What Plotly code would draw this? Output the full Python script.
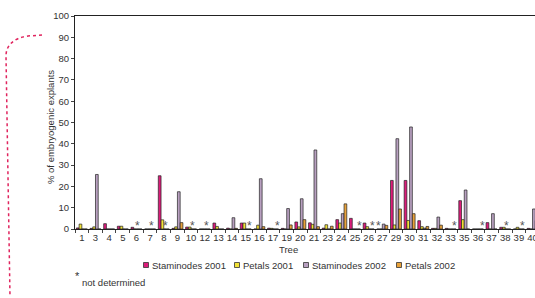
import plotly.graph_objects as go

trees = ["1", "3", "4", "5", "6", "7", "8", "9", "10", "12", "13", "14", "15", "16", "17",
         "19", "20", "21", "23", "24", "25", "26", "27", "29", "30", "31", "32", "33", "35",
         "36", "37", "38", "39", "40"]

staminodes_2001 = [0.5, 0.3, 2.5, 1.3, 0.8, 0, 25.0, 0.3, 0.9, 0, 2.8, 0.4, 2.8, 0, 0.4,
                   0.3, 3.3, 2.9, 0.4, 4.4, 5.0, 2.8, 0, 22.8, 22.8, 3.9, 0.3, 0.3, 13.3,
                   0, 3.0, 0.8, 0, 0.3]
petals_2001 = [2.3, 1.0, 0, 1.3, 0, 0, 4.3, 1.0, 0.9, 0, 1.2, 0, 2.8, 1.8, 0.3,
               0, 1.0, 2.2, 2.0, 2.8, 0, 1.1, 0, 1.9, 4.0, 1.1, 0.3, 0, 4.4,
               0, 0, 0.8, 0.8, 0]
staminodes_2002 = [0, 25.6, 0, 0, 0, 0, 0, 17.5, 0, 0, 0, 5.3, 0, 23.6, 0,
                   9.6, 14.2, 37.1, 0, 7.2, 0, 0, 2.3, 42.4, 47.9, 0.4, 5.6, 0, 18.3,
                   0, 7.2, 0, 0, 9.4]
petals_2002 = [0, 0, 0, 0, 0, 0, 0, 3.0, 0, 0, 0, 0.3, 0, 1.1, 0,
               1.9, 4.4, 1.1, 1.3, 11.8, 0, 0, 1.7, 9.4, 7.2, 1.2, 1.8, 0, 0,
               0, 0, 0, 0, 4.0]

series_names = ["Staminodes 2001", "Petals 2001", "Staminodes 2002", "Petals 2002"]
series_values = [staminodes_2001, petals_2001, staminodes_2002, petals_2002]
series_colors = ["#dc1c7a", "#f2e236", "#b8a0c0", "#e9a23a"]

# not determined marks: tree and series slot
nd_trees = ["6", "7", "8", "10", "12", "15", "17", "25", "26", "27", "33", "36", "38", "39"]
nd_series = [2, 2, 2, 2, 2, 3, 3, 3, 3, 0, 3, 3, 2, 3]

FONT = "Liberation Sans, Arial, sans-serif"
W, H = 535, 298
L, R, T, B = 75, 0, 16, 69
PW, PH = W - L - R, H - T - B


def px(xp):
    return (xp - L) / PW


def py(yp):
    return (H - B - yp) / PH


fig = go.Figure()
for name, vals, col in zip(series_names, series_values, series_colors):
    fig.add_trace(go.Bar(x=trees, y=vals, name=name,
                         marker=dict(color=col, line=dict(color="#222222", width=0.7)),
                         showlegend=False))

bargap = 0.2
bw = (1 - bargap) / 4
annotations = []
for t, s in zip(nd_trees, nd_series):
    xi = trees.index(t) - (1 - bargap) / 2 + bw * (s + 0.5)
    annotations.append(dict(x=xi, y=1.2, xref="x", yref="y", text="*", showarrow=False,
                            font=dict(family=FONT, size=12, color="#555555"),
                            xanchor="center", yanchor="middle"))

# axis title for x
annotations.append(dict(x=px(288), y=py(249.5), xref="paper", yref="paper", text="Tree",
                        showarrow=False, font=dict(family=FONT, size=9.5, color="#333333"),
                        xanchor="center", yanchor="middle"))
# y axis title
annotations.append(dict(x=px(50), y=py(127), xref="paper", yref="paper",
                        text="% of embryogenic explants", textangle=-90,
                        showarrow=False, font=dict(family=FONT, size=9.5, color="#333333"),
                        xanchor="center", yanchor="middle"))

shapes = []
# manual legend
legend_x = [146, 237, 306, 399]
legend_y = 265
for lx, name, col in zip(legend_x, series_names, series_colors):
    shapes.append(dict(type="rect", xref="paper", yref="paper",
                       x0=px(lx - 2.5), x1=px(lx + 2.5), y0=py(legend_y + 2.5), y1=py(legend_y - 2.5),
                       fillcolor=col, line=dict(color="#333333", width=0.8)))
    annotations.append(dict(x=px(lx + 3.5), y=py(legend_y), xref="paper", yref="paper",
                            text=name, showarrow=False,
                            font=dict(family=FONT, size=9.5, color="#333333"),
                            xanchor="left", yanchor="middle"))

# footnote
annotations.append(dict(x=px(73), y=py(276), xref="paper", yref="paper", text="*",
                        showarrow=False, font=dict(family=FONT, size=11, color="#333333"),
                        xanchor="left", yanchor="middle"))
annotations.append(dict(x=px(80), y=py(282), xref="paper", yref="paper", text="not determined",
                        showarrow=False, font=dict(family=FONT, size=9.5, color="#333333"),
                        xanchor="left", yanchor="middle"))

# dotted bracket on the left
path = "M {x0},{y0} L {x1},{y1} C {c1x},{c1y} {c2x},{c2y} {x2},{y2} L {x3},{y3}".format(
    x0=px(42), y0=py(35), x1=px(28), y1=py(36),
    c1x=px(14), c1y=py(38), c2x=px(6), c2y=py(45), x2=px(6), y2=py(56),
    x3=px(10), y3=py(297))
shapes.append(dict(type="path", xref="paper", yref="paper", path=path,
                   line=dict(color="#e0245e", width=1.5, dash="dot")))

fig.update_layout(
    width=W, height=H,
    margin=dict(l=L, r=R, t=T, b=B, pad=0),
    paper_bgcolor="white", plot_bgcolor="white",
    barmode="group", bargap=bargap, bargroupgap=0,
    font=dict(family=FONT, size=10, color="#333333"),
    annotations=annotations, shapes=shapes,
    showlegend=False,
    xaxis=dict(type="category", range=[-0.5, 33.18], showline=True, linecolor="#222222",
               linewidth=1, mirror=True, ticks="outside", tickson="boundaries", ticklen=3,
               tickcolor="#444444", showgrid=False, zeroline=False, tickangle=0,
               automargin=False,
               tickfont=dict(family=FONT, size=9.5, color="#333333")),
    yaxis=dict(range=[0, 100], dtick=10, showline=True, linecolor="#222222", linewidth=1,
               ticks="outside", ticklen=3, tickcolor="#444444", showgrid=False,
               automargin=False,
               zeroline=False, tickfont=dict(family=FONT, size=9.5, color="#333333")),
)

fig.write_html("out.html", config={"displayModeBar": False},
               post_script="document.body.style.margin='0';document.body.style.overflow='hidden';")
